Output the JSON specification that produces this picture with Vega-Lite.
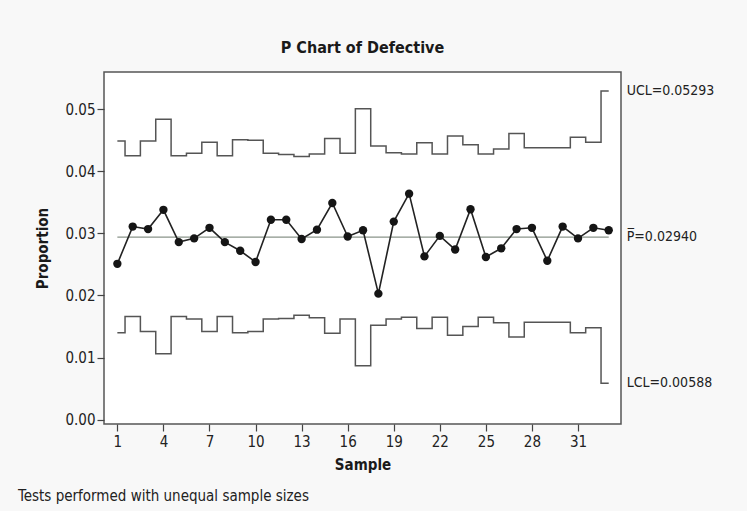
{
  "$schema": "https://vega.github.io/schema/vega-lite/v6.json",
  "width": 517,
  "height": 352,
  "autosize": {"type": "none"},
  "padding": {"left": 104, "top": 72, "right": 126, "bottom": 87},
  "background": "#f8f8f8",
  "title": {
    "text": "P Chart of Defective",
    "anchor": "middle",
    "font": "Liberation Sans Narrow, DejaVu Sans Condensed, Liberation Sans",
    "fontSize": 16,
    "fontWeight": "bold",
    "color": "#1a1a1a",
    "offset": 16
  },
  "config": {
    "view": {"fill": "white", "stroke": "#555555", "strokeWidth": 1.5},
    "axis": {
      "labelFont": "Liberation Sans Narrow, DejaVu Sans Condensed, Liberation Sans",
      "titleFont": "Liberation Sans Narrow, DejaVu Sans Condensed, Liberation Sans",
      "labelFontSize": 15,
      "titleFontSize": 15,
      "titleFontWeight": "bold",
      "labelColor": "#222222",
      "titleColor": "#1a1a1a",
      "tickColor": "#444444",
      "tickSize": 7,
      "tickWidth": 1.2,
      "domain": false,
      "grid": false
    }
  },
  "data": {
    "values": [
      {"s": 1, "p": 0.0251, "ucl": 0.0449, "lcl": 0.0140, "cl": 0.0294},
      {"s": 2, "p": 0.0311, "ucl": 0.0425, "lcl": 0.0166, "cl": 0.0294},
      {"s": 3, "p": 0.0307, "ucl": 0.0449, "lcl": 0.0142, "cl": 0.0294},
      {"s": 4, "p": 0.0338, "ucl": 0.0484, "lcl": 0.0106, "cl": 0.0294},
      {"s": 5, "p": 0.0286, "ucl": 0.0425, "lcl": 0.0166, "cl": 0.0294},
      {"s": 6, "p": 0.0292, "ucl": 0.0429, "lcl": 0.0162, "cl": 0.0294},
      {"s": 7, "p": 0.0309, "ucl": 0.0447, "lcl": 0.0142, "cl": 0.0294},
      {"s": 8, "p": 0.0286, "ucl": 0.0425, "lcl": 0.0166, "cl": 0.0294},
      {"s": 9, "p": 0.0272, "ucl": 0.0451, "lcl": 0.0140, "cl": 0.0294},
      {"s": 10, "p": 0.0254, "ucl": 0.0450, "lcl": 0.0142, "cl": 0.0294},
      {"s": 11, "p": 0.0322, "ucl": 0.0429, "lcl": 0.0162, "cl": 0.0294},
      {"s": 12, "p": 0.0322, "ucl": 0.0427, "lcl": 0.0163, "cl": 0.0294},
      {"s": 13, "p": 0.0291, "ucl": 0.0424, "lcl": 0.0168, "cl": 0.0294},
      {"s": 14, "p": 0.0306, "ucl": 0.0428, "lcl": 0.0164, "cl": 0.0294},
      {"s": 15, "p": 0.0349, "ucl": 0.0453, "lcl": 0.0139, "cl": 0.0294},
      {"s": 16, "p": 0.0295, "ucl": 0.0429, "lcl": 0.0162, "cl": 0.0294},
      {"s": 17, "p": 0.0305, "ucl": 0.0501, "lcl": 0.0087, "cl": 0.0294},
      {"s": 18, "p": 0.0203, "ucl": 0.0441, "lcl": 0.0152, "cl": 0.0294},
      {"s": 19, "p": 0.0319, "ucl": 0.0430, "lcl": 0.0162, "cl": 0.0294},
      {"s": 20, "p": 0.0364, "ucl": 0.0428, "lcl": 0.0165, "cl": 0.0294},
      {"s": 21, "p": 0.0263, "ucl": 0.0446, "lcl": 0.0147, "cl": 0.0294},
      {"s": 22, "p": 0.0296, "ucl": 0.0428, "lcl": 0.0165, "cl": 0.0294},
      {"s": 23, "p": 0.0274, "ucl": 0.0457, "lcl": 0.0136, "cl": 0.0294},
      {"s": 24, "p": 0.0339, "ucl": 0.0443, "lcl": 0.0150, "cl": 0.0294},
      {"s": 25, "p": 0.0262, "ucl": 0.0428, "lcl": 0.0165, "cl": 0.0294},
      {"s": 26, "p": 0.0276, "ucl": 0.0436, "lcl": 0.0156, "cl": 0.0294},
      {"s": 27, "p": 0.0307, "ucl": 0.0461, "lcl": 0.0133, "cl": 0.0294},
      {"s": 28, "p": 0.0309, "ucl": 0.0438, "lcl": 0.0157, "cl": 0.0294},
      {"s": 29, "p": 0.0256, "ucl": 0.0438, "lcl": 0.0157, "cl": 0.0294},
      {"s": 30, "p": 0.0311, "ucl": 0.0438, "lcl": 0.0157, "cl": 0.0294},
      {"s": 31, "p": 0.0292, "ucl": 0.0455, "lcl": 0.0140, "cl": 0.0294},
      {"s": 32, "p": 0.0309, "ucl": 0.0447, "lcl": 0.0148, "cl": 0.0294},
      {"s": 33, "p": 0.0305, "ucl": 0.05293, "lcl": 0.00588, "cl": 0.0294}
    ]
  },
  "encoding": {
    "x": {
      "field": "s",
      "type": "quantitative",
      "scale": {"domain": [0.13, 33.8], "nice": false, "zero": false},
      "axis": {"values": [1, 4, 7, 10, 13, 16, 19, 22, 25, 28, 31], "title": "Sample", "labelPadding": 3, "titlePadding": 8}
    }
  },
  "layer": [
    {
      "mark": {"type": "line", "interpolate": "step", "color": "#555555", "strokeWidth": 1.5},
      "encoding": {
        "y": {
          "field": "ucl",
          "type": "quantitative",
          "scale": {"domain": [-0.0007, 0.056], "nice": false, "zero": false},
          "axis": {"values": [0, 0.01, 0.02, 0.03, 0.04, 0.05], "format": ".2f", "title": "Proportion", "labelPadding": 2, "titlePadding": 14}
        }
      }
    },
    {
      "mark": {"type": "line", "interpolate": "step", "color": "#555555", "strokeWidth": 1.5},
      "encoding": {"y": {"field": "lcl", "type": "quantitative"}}
    },
    {
      "mark": {"type": "line", "color": "#8a948a", "strokeWidth": 1.2},
      "encoding": {"y": {"field": "cl", "type": "quantitative"}}
    },
    {
      "mark": {"type": "line", "color": "#222222", "strokeWidth": 1.6},
      "encoding": {"y": {"field": "p", "type": "quantitative"}}
    },
    {
      "mark": {"type": "point", "filled": true, "color": "#151515", "size": 70, "opacity": 1},
      "encoding": {"y": {"field": "p", "type": "quantitative"}}
    },
    {
      "data": {
        "values": [
          {"lab": "UCL=0.05293", "s": 33, "v": 0.05293},
          {"lab": "P̅=0.02940", "s": 33, "v": 0.0294},
          {"lab": "LCL=0.00588", "s": 33, "v": 0.00588}
        ]
      },
      "mark": {
        "type": "text",
        "align": "left",
        "baseline": "middle",
        "dx": 18,
        "font": "Liberation Sans Narrow, DejaVu Sans Condensed, Liberation Sans",
        "fontSize": 14,
        "color": "#222222"
      },
      "encoding": {
        "x": {"field": "s", "type": "quantitative"},
        "y": {"field": "v", "type": "quantitative"},
        "text": {"field": "lab"}
      }
    },
    {
      "data": {"values": [{"note": "Tests performed with unequal sample sizes"}]},
      "mark": {
        "type": "text",
        "align": "left",
        "baseline": "middle",
        "font": "Liberation Sans Narrow, DejaVu Sans Condensed, Liberation Sans",
        "fontSize": 15,
        "color": "#222222"
      },
      "encoding": {
        "x": {"value": -86},
        "y": {"value": 424},
        "text": {"field": "note"}
      }
    }
  ]
}
